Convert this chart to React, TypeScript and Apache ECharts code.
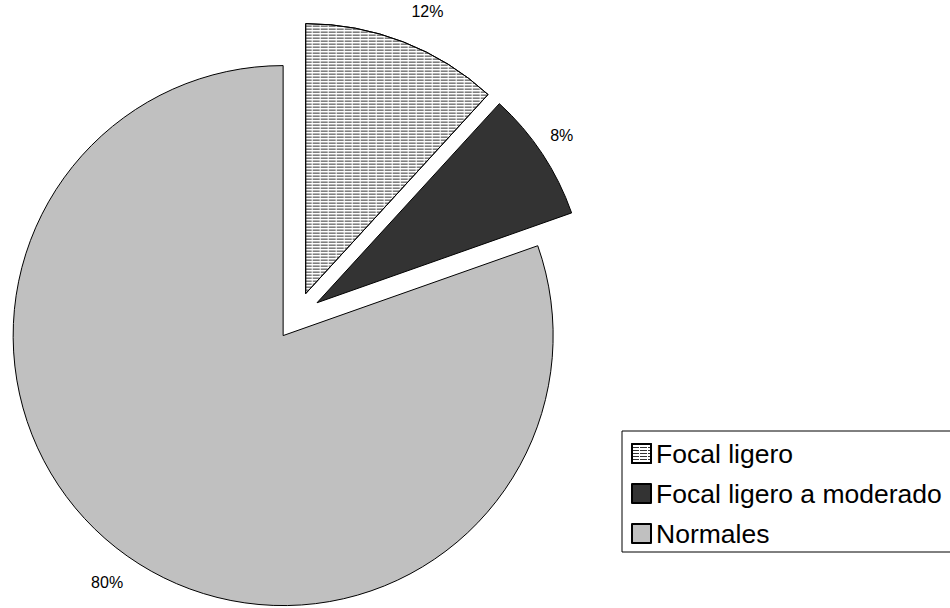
import React, { useEffect, useRef } from "react";
import * as echarts from "echarts";

const categories = ["Focal ligero", "Focal ligero a moderado", "Normales"];
// shares (labels are rounded to whole percents)
const values = [11.8, 7.8, 80.4];
const colors = ["#ffffff", "#333333", "#c0c0c0"];

export default function App() {
  const ref = useRef<HTMLDivElement>(null);
  useEffect(() => {
    if (!ref.current) return;
    const chart = echarts.init(ref.current, null, { renderer: "svg" });
    const font = "'Liberation Sans', Arial, sans-serif";
    const labelPadding = [
      [24, 0, 0, 24],
      [0, 16, 6, 0],
      [12, 2, 0, 0],
    ];
    const mainData = categories.map((name, i) => ({
      name,
      value: values[i],
      selected: true,
      itemStyle: {
        color: colors[i],
        borderColor: "#000",
        borderWidth: 1,
        ...(i === 0
          ? {
              decal: {
                symbol: "rect",
                symbolSize: 1,
                symbolKeepAspect: false,
                color: "#333333",
                dashArrayX: [[7, 1]],
                dashArrayY: [1, 2],
                rotation: 0,
              },
            }
          : {}),
      },
    }));
    const labelData = categories.map((name, i) => ({
      name,
      value: values[i],
      label: { padding: labelPadding[i] },
    }));
    chart.setOption({
      animation: false,
      backgroundColor: "#ffffff",
      legend: {
        orient: "vertical",
        left: 622,
        top: 431,
        data: categories,
        icon: "rect",
        itemWidth: 19,
        itemHeight: 19,
        itemGap: 13,
        padding: [9, 20, 5, 9],
        backgroundColor: "#ffffff",
        borderColor: "#000",
        borderWidth: 1,
        borderRadius: 0,
        selectedMode: false,
        textStyle: { fontFamily: font, fontSize: 26.5, color: "#000" },
      },
      series: [
        {
          type: "pie",
          center: [297, 316],
          radius: 270,
          startAngle: 90,
          clockwise: true,
          selectedMode: "multiple",
          selectedOffset: 24,
          silent: true,
          emphasis: { disabled: true },
          select: { itemStyle: { borderColor: "#000", borderWidth: 1 } },
          label: { show: false },
          labelLine: { show: false },
          data: mainData,
        },
        {
          type: "pie",
          center: [297, 316],
          radius: [310, 338],
          startAngle: 90,
          clockwise: true,
          silent: true,
          percentPrecision: 0,
          emphasis: { disabled: true },
          itemStyle: { color: "rgba(0,0,0,0)", borderWidth: 0 },
          label: {
            show: true,
            position: "inside",
            formatter: "{d}%",
            color: "#000",
            fontFamily: font,
            fontSize: 16,
          },
          labelLine: { show: false },
          data: labelData,
        },
      ],
    });
    return () => chart.dispose();
  }, []);
  return (
    <div
      ref={ref}
      style={{ position: "absolute", left: 0, top: 0, width: 950, height: 608 }}
    />
  );
}
